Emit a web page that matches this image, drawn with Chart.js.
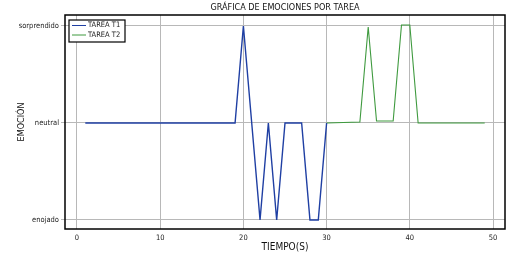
<!DOCTYPE html>
<html>
<head>
<meta charset="utf-8">
<script src="https://cdn.jsdelivr.net/npm/chart.js@4"></script>
<style>
  html, body { margin: 0; padding: 0; background: #fff; }
  #wrap { width: 516px; height: 257px; }
</style>
</head>
<body>
<div id="wrap"><canvas id="chart" width="516" height="257"></canvas></div>
<script>
// datos
const emotionLabels = ["enojado", "neutral", "sorprendido"];
const xTicks = [0, 10, 20, 30, 40, 50];

const t1Time = [1, 19, 20, 22, 23, 24, 25, 27, 28, 29, 30];
const t1Emotion = [1, 1, 2, 0, 1, 0, 1, 1, 0, 0, 1];

const t2Time = [30, 34, 35, 36, 38, 39, 40, 41, 49];
const t2Emotion = [1.0, 1.01, 1.99, 1.02, 1.02, 2.01, 2.01, 1.0, 1.0];

const chartTitle = "GRÁFICA DE EMOCIONES POR TAREA";

const FONT = "'DejaVu Sans Condensed', 'Liberation Sans Narrow', 'Liberation Sans', sans-serif";

const toPoints = (xs, ys) => xs.map((x, i) => ({ x: x, y: ys[i] }));

// marco negro, titulo centrado sobre el area y leyenda dentro
const framePlugin = {
    id: "frame",
    afterDatasetsDraw(chart) {
        const { ctx, chartArea: a } = chart;
        ctx.save();
        ctx.strokeStyle = "#000";
        ctx.lineWidth = 1.5;
        ctx.strokeRect(a.left, a.top, a.right - a.left, a.bottom - a.top);

        ctx.fillStyle = "#111";
        ctx.font = "9px " + FONT;
        ctx.textAlign = "center";
        ctx.textBaseline = "middle";
        ctx.fillText(chartTitle, (a.left + a.right) / 2, 7.5);

        // leyenda
        const bx = a.left + 4, by = a.top + 5, bw = 56, bh = 22;
        ctx.fillStyle = "#fff";
        ctx.fillRect(bx, by, bw, bh);
        ctx.lineWidth = 1.2;
        ctx.strokeStyle = "#000";
        ctx.strokeRect(bx, by, bw, bh);
        ctx.font = "7.5px " + FONT;
        ctx.textAlign = "left";
        chart.data.datasets.forEach((ds, i) => {
            const y = by + 5.5 + i * 9.5;
            ctx.strokeStyle = ds.borderColor;
            ctx.lineWidth = 1;
            ctx.beginPath();
            ctx.moveTo(bx + 3, y);
            ctx.lineTo(bx + 17, y);
            ctx.stroke();
            ctx.fillStyle = "#222";
            ctx.fillText(ds.label, bx + 19, y);
        });
        ctx.restore();
    }
};

new Chart(document.getElementById("chart"), {
    type: "line",
    data: {
        datasets: [
            {
                label: "TAREA T1",
                data: toPoints(t1Time, t1Emotion),
                borderColor: "#1f3fa3",
                borderWidth: 1.4,
                pointRadius: 0,
                tension: 0
            },
            {
                label: "TAREA T2",
                data: toPoints(t2Time, t2Emotion),
                borderColor: "#3f9a3f",
                borderWidth: 1.1,
                pointRadius: 0,
                tension: 0
            }
        ]
    },
    options: {
        responsive: false,
        animation: false,
        layout: { padding: { left: 0, right: 11, top: 15, bottom: 0 } },
        plugins: {
            legend: { display: false },
            tooltip: { enabled: false },
            title: { display: false }
        },
        scales: {
            x: {
                type: "linear",
                min: -1.44,
                max: 51.44,
                afterBuildTicks: axis => { axis.ticks = xTicks.map(v => ({ value: v })); },
                afterFit: scale => { scale.height = 28; },
                grid: { color: "#b8b8b8", lineWidth: 1, drawTicks: false },
                border: { display: false },
                ticks: {
                    color: "#222",
                    padding: 5,
                    maxRotation: 0,
                    font: { family: FONT, size: 7.5 }
                },
                title: {
                    display: true,
                    text: "TIEMPO(S)",
                    color: "#111",
                    font: { family: FONT, size: 10 },
                    padding: { top: 0, bottom: 4 }
                }
            },
            y: {
                type: "linear",
                min: -0.093,
                max: 2.113,
                afterBuildTicks: axis => { axis.ticks = [0, 1, 2].map(v => ({ value: v })); },
                afterFit: scale => { scale.width = 65; },
                grid: { color: "#b8b8b8", lineWidth: 1, tickLength: 4 },
                border: { display: false },
                ticks: {
                    color: "#222",
                    padding: 2,
                    font: { family: FONT, size: 7.5 },
                    callback: v => emotionLabels[v]
                },
                title: {
                    display: true,
                    text: "EMOCIÓN",
                    color: "#111",
                    font: { family: FONT, size: 9 },
                    padding: { top: 16, bottom: 0 }
                }
            }
        }
    },
    plugins: [framePlugin]
});
</script>
</body>
</html>
